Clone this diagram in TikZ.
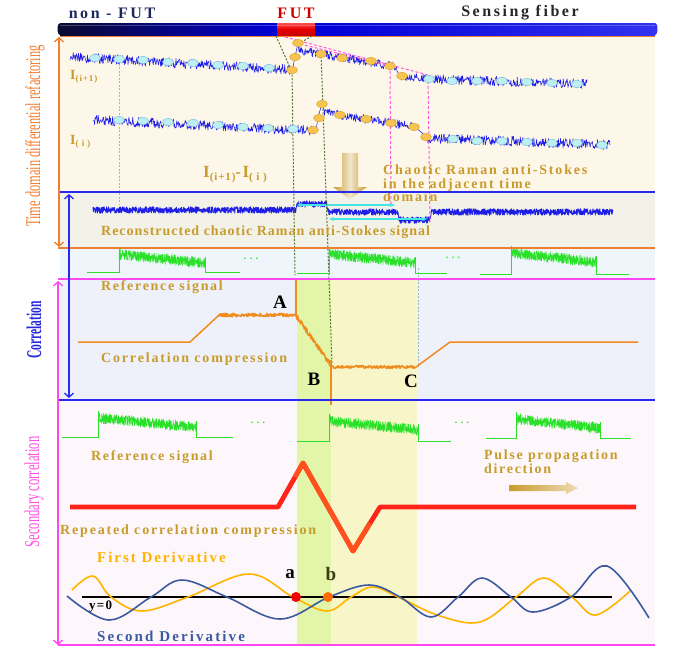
\documentclass[tikz,border=0pt]{standalone}
\usepackage{fontspec}
\usepackage{graphicx}
\setmainfont{Liberation Serif}
\usetikzlibrary{arrows.meta}
\definecolor{goldc}{RGB}{200,155,45}
\definecolor{bgcream}{RGB}{253,247,234}
\definecolor{bgrec}{RGB}{242,242,232}
\definecolor{bgref}{RGB}{238,246,251}
\definecolor{bgcorr}{RGB}{238,241,250}
\definecolor{bgsec}{RGB}{253,247,251}
\definecolor{bandg}{RGB}{226,245,168}
\definecolor{bandy}{RGB}{248,246,200}
\definecolor{tracec}{RGB}{30,30,230}
\definecolor{pulsec}{RGB}{40,225,40}
\definecolor{corrc}{RGB}{240,140,30}
\definecolor{orangeL}{RGB}{240,125,50}
\definecolor{blueL}{RGB}{40,40,240}
\definecolor{magL}{RGB}{255,70,240}
\definecolor{dgreen}{RGB}{80,120,50}
\definecolor{pinkd}{RGB}{255,90,220}
\definecolor{greyd}{RGB}{150,185,205}
\definecolor{cyanA}{RGB}{70,230,230}
\definecolor{mkcyan}{RGB}{190,238,242}
\definecolor{mkcyanD}{RGB}{110,190,210}
\definecolor{mkgold}{RGB}{247,196,80}
\definecolor{mkgoldD}{RGB}{215,160,50}
\definecolor{firstc}{RGB}{255,180,0}
\definecolor{secondc}{RGB}{60,90,160}
\definecolor{redc}{RGB}{255,35,25}
\definecolor{redo}{RGB}{255,80,30}
\definecolor{navyt}{RGB}{28,40,90}
\definecolor{futred}{RGB}{200,0,0}
\definecolor{barDark}{RGB}{10,10,50}
\definecolor{barBlue}{RGB}{0,0,215}
\definecolor{barBlue2}{RGB}{50,50,240}
\definecolor{lblue}{RGB}{40,40,220}
\definecolor{lmag}{RGB}{255,80,230}
\definecolor{olivet}{RGB}{60,60,20}
\tikzset{
 gl/.style={text=goldc,inner sep=0pt,anchor=west,font=\fontsize{14}{13.5}\selectfont\bfseries\addfontfeatures{LetterSpace=#1}},
 gl/.default=13,
 trace/.style={draw=tracec,line width=0.55pt,line join=round},
 pulse/.style={draw=pulsec,line width=1pt},
 pnoise/.style={draw=pulsec,line width=0.3pt},
 mkc/.style={fill=mkcyan,draw=mkcyanD,line width=0.4pt},
 mkg/.style={fill=mkgold,draw=mkgoldD,line width=0.4pt},
 gdash/.style={draw=dgreen,line width=1pt,dash pattern=on 2pt off 1.5pt},
 pdash/.style={draw=pinkd,line width=1pt,dash pattern=on 3pt off 2pt},
 bdash/.style={draw=greyd,line width=0.8pt,dash pattern=on 2pt off 1.5pt},
 sidearr/.style={line width=1.3pt,{Straight Barb[length=4pt,width=9pt]}-{Straight Barb[length=4pt,width=9pt]}},
 sidelbl/.style={rotate=90,inner sep=0pt},
 bigl/.style={font=\fontsize{19}{19}\selectfont\bfseries,inner sep=0pt},
 toplbl/.style={font=\fontsize{16}{16}\selectfont\bfseries\addfontfeatures{LetterSpace=16},inner sep=0pt},
 corrl/.style={draw=corrc,line width=1.5pt,line join=round},
 cyanarr/.style={draw=cyanA,line width=1.2pt,{Stealth[length=5pt,width=4pt]}-{Stealth[length=5pt,width=4pt]}},
 dotsl/.style={text=pulsec,inner sep=0pt,font=\bfseries},
}
\newcommand\refpulse[8]{%
 \draw[pulse] (#1,#5) -- (#2,#5) -- (#2,{#6-7});
 \draw[pnoise] plot[domain=#2:#3,samples=#7] (\x,{#6+#8*(\x-#2)/(#3-#2)+5.5*rand});
 \draw[pulse] (#3,{#6+#8-6}) -- (#3,#5) -- (#4,#5);
}
\begin{document}
\begin{tikzpicture}[x=1pt,y=-1pt]
\pgfmathsetseed{4242}
\useasboundingbox (0,0) rectangle (692,657);
% backgrounds
\fill[bgcream] (60,36) rectangle (655,192);
\fill[bgrec] (60,192) rectangle (655,248);
\fill[bgref] (60,248) rectangle (655,279);
\fill[bgcorr] (60,279) rectangle (655,400);
\fill[bgsec] (60,400) rectangle (655,645);
\fill[bandg] (297,279) rectangle (331,645);
\fill[bandy] (331,279) rectangle (417,645);
% fiber bar
\shade[left color=barDark,right color=barBlue] (60,23) rectangle (277,35);
\shade[top color=red!70!white,bottom color=futred,middle color=red!90!black] (277,23) rectangle (315,35);
\shade[left color=barBlue,right color=barBlue2] (315,23) rectangle (655,35);
\fill[barDark] (60,29) ellipse (2.5pt and 6pt);
\fill[barBlue2] (655,29) ellipse (2.5pt and 6pt);
\fill[white,opacity=0.25] (60,24.5) rectangle (655,26);
\draw[orangeL,line width=1pt] (60,36) -- (655,36);
% top labels
\node[toplbl,text=navyt] (tnon) at (112,13) {non - FUT};
\node[toplbl,text=futred] (tfut) at (296,13) {FUT};
\node[toplbl,text=black!85] (tsens) at (520,13) {Sensing fiber};
% traces I(i+1)
\draw[trace] plot[domain=70:291,samples=420] (\x,{57+0.057*(\x-70)+5*rand}) -- (292,72) -- (295,57) -- (298,43)
 -- plot[domain=299:397,samples=190] (\x,{50+0.17*(\x-298)+4.5*rand}) -- (400,76)
 -- plot[domain=401:428,samples=50] (\x,{76+0.1*(\x-400)+4*rand})
 -- plot[domain=429:587,samples=300] (\x,{79+0.03*(\x-428)+5*rand});
% trace I(i)
\draw[trace] plot[domain=93:315,samples=420] (\x,{120+0.049*(\x-93)+5*rand}) -- (316,131) -- (318,117) -- (322,104)
 -- plot[domain=324:413,samples=170] (\x,{112+0.162*(\x-322)+4.5*rand}) -- (415,127) -- (427,137)
 -- plot[domain=428:610,samples=350] (\x,{138+0.038*(\x-427)+5*rand});
% reconstructed trace
\draw[trace,line width=0.8pt] plot[domain=93:296,samples=800] (\x,{210+3.3*rand})
 -- plot[domain=297:327,samples=120] (\x,{204+3.3*rand})
 -- plot[domain=328:398,samples=280] (\x,{212+3.3*rand})
 -- plot[domain=399:430,samples=124] (\x,{220+3.3*rand})
 -- plot[domain=431:613,samples=720] (\x,{212+3.3*rand});
\coordinate (ca1) at (297,205); \coordinate (ca2) at (395,205);
\coordinate (cb1) at (329,219); \coordinate (cb2) at (427,219);
\draw[cyanarr] (ca1) -- (ca2);
\draw[cyanarr] (cb1) -- (cb2);
% dashed guides
\draw[bdash] (119,60) -- (119,205);
\draw[bdash] (418,268) -- (418,367);
\draw[gdash] (276,36) -- (292,72) -- (295,275);
\draw[gdash] (312,36) -- (300,43);
\draw[gdash] (321,53) -- (332,363);
\draw[pdash] (285,37) -- (428,75);
\draw[pdash] (300,44) -- (390,66);
\draw[pdash] (390,66) -- (391,205);
\draw[pdash] (428,76) -- (430,222);
% markers
\foreach \p in {(95,58),(119,59),(143,60),(168,62),(193,63),(218,65),(243,66),(269,68),
 (429,79),(452,81),(477,81),(502,81),(527,82),(552,83),(577,84),
 (119,120),(143,121),(168,122),(193,123),(218,125),(243,127),(268,128),(293,129),
 (453,139),(477,141),(502,141),(527,142),(552,143),(577,143),(602,145)}
 \draw[mkc] \p ellipse (5.5pt and 3.8pt);
\foreach \p in {(292,70),(295,57),(298,43),(321,54),(342,58),(371,61),(390,66),(402,76),
 (313,130),(319,118),(322,104),(340,115),(366,119),(391,123),(414,127),(426,137)}
 \draw[mkg] \p ellipse (5.5pt and 3.8pt);
% labels in first panel
\node[gl=10] (lIi1) at (70,77) {I\raisebox{-2.5pt}{\fontsize{9}{9}\selectfont(i+1)}};
\node[gl=10] (lIi) at (70,142) {I\raisebox{-2.5pt}{\fontsize{9}{9}\selectfont( i )}};
\node[gl=8] (ldiff) at (203,175) {\fontsize{17}{17}\selectfont I\raisebox{-3pt}{\fontsize{11}{11}\selectfont(i+1)}-I\raisebox{-3pt}{\fontsize{11}{11}\selectfont( i )}};
\shade[left color=goldc,right color=goldc,middle color=goldc!25!white] (342,153) -- (358,153) -- (358,187) -- (367,187) -- (350,199) -- (333,187) -- (342,187) -- cycle;
\node[gl,anchor=north west,align=left] (lchaotic) at (383,165) {Chaotic Raman anti-Stokes\\in the adjacent time\\domain};
\node[gl=7] (lrecon) at (101,232) {Reconstructed chaotic Raman anti-Stokes signal};
% reference pulses row 1
\refpulse{87}{119}{205}{240}{272}{254}{700}{9}
\refpulse{297}{329}{415}{447}{273}{254}{700}{9}
\refpulse{480}{511}{596}{629}{274}{253}{700}{9}
\node[dotsl] (dots1) at (251,259) {. . .};
\node[dotsl] (dots2) at (453,258) {. . .};
% correlation
\node[gl=12] (lref1) at (101,287) {Reference signal};
\draw[corrl] (78,342) -- (190,342) -- (218,316)
 -- plot[domain=219:294,samples=150] (\x,{315+1.8*rand}) -- (296,316)
 -- plot[domain=297:331,samples=80] (\x,{317+(\x-297)*1.42+2.5*rand})
 -- plot[domain=333:415,samples=160] (\x,{367+1.5*rand}) -- (416,367) -- (450,342) -- (638,342);
\draw[corrl] (296,280) -- (296,316);
\draw[corrl] (331,360) -- (331,405);
\node[gl] (lcorrc) at (101,359) {Correlation compression};
\node[bigl] (lA) at (280,302) {A};
\node[bigl] (lB) at (314,379) {B};
\node[bigl] (lC) at (411,381) {C};
% secondary
\refpulse{62}{98}{196}{233}{437}{418}{800}{9}
\refpulse{297}{329}{418}{451}{441}{421}{720}{9}
\refpulse{486}{516}{600}{631}{438}{419}{700}{9}
\node[dotsl] (dots3) at (258,423) {. . .};
\node[dotsl] (dots4) at (462,423) {. . .};
\node[gl=12] (lref2) at (91,457) {Reference signal};
\node[gl=12,anchor=north west,align=left,font=\fontsize{14}{14}\selectfont\bfseries\addfontfeatures{LetterSpace=12}] (lpulse) at (484,450) {Pulse propagation\\direction};
\shade[left color=goldc,right color=goldc!35!white] (509,485) -- (566,485) -- (566,482) -- (578,488) -- (566,494) -- (566,491) -- (509,491) -- cycle;
\draw[redc,line width=4.8pt,line join=round] (70,507) -- (278,507) -- (303,463) -- (353,551) -- (380,507) -- (636,507);
\draw[redo,line width=4.8pt,line join=round] (295,477) -- (303,463) -- (353,551) -- (370,523);
\node[gl] (lrep) at (60,531) {Repeated correlation compression};
\node[gl,text=firstc,font=\fontsize{15}{15}\selectfont\bfseries\addfontfeatures{LetterSpace=13}] (lfirst) at (97,557) {First Derivative};
\draw[black,line width=1.5pt] (82,597) -- (612,597);
\draw[firstc,line width=1.6pt] plot[smooth,tension=0.6] coordinates {(72,590) (93,576) (111,597) (142,611) (188,597) (249,574) (293,597) (327,611) (351,597) (373,587) (400,598) (440,616) (480,622) (516,597) (544,578) (573,598) (596,615) (630,591)};
\draw[secondc,line width=1.6pt] plot[smooth,tension=0.6] coordinates {(67,596) (109,620) (151,597) (182,580) (227,597) (280,619) (329,597) (369,585) (400,597) (431,617) (458,597) (482,578) (511,597) (533,612) (571,597) (607,566) (649,618)};
\fill[red!95!black] (296,597) circle (5pt);
\fill[orange!85!red] (328,597) circle (5pt);
\node[bigl] (la) at (290,574) {a};
\node[bigl,text=olivet] (lb) at (331,574) {b};
\node[inner sep=0pt,anchor=west,font=\fontsize{13}{13}\selectfont\bfseries\addfontfeatures{LetterSpace=10}] (ly0) at (89,607) {y=0};
\node[gl,text=secondc,font=\fontsize{15}{15}\selectfont\bfseries\addfontfeatures{LetterSpace=14}] (lsecond) at (97,636) {Second Derivative};
% separators
\draw[blueL,line width=1.2pt] (58,192) -- (655,192);
\draw[orangeL,line width=1.2pt] (58,248) -- (655,248);
\draw[magL,line width=1.2pt] (58,279) -- (655,279);
\draw[blueL,line width=1.2pt] (58,400) -- (655,400);
\draw[magL,line width=1.2pt] (58,645) -- (655,645);
% side arrows
\coordinate (sa1) at (59,37); \coordinate (sa2) at (59,247);
\coordinate (sb1) at (69,194); \coordinate (sb2) at (69,398);
\coordinate (sc1) at (58,281); \coordinate (sc2) at (58,645);
\draw[sidearr,orangeL] (sa1) -- (sa2);
\draw[sidearr,blueL] (sb1) -- (sb2);
\draw[sidearr,magL] (sc1) -- (sc2);
\node[sidelbl,text=orangeL] (lbltime) at (35,136) {\fontsize{21}{21}\selectfont\scalebox{0.59}[1]{Time domain differential refactoring}};
\node[sidelbl,text=lblue] (lblcorr) at (34,330) {\fontsize{21}{21}\selectfont\bfseries\scalebox{0.55}[1]{Correlation}};
\node[sidelbl,text=lmag] (lblsec) at (34,492) {\fontsize{21}{21}\selectfont\scalebox{0.6}[1]{Secondary correlation}};
\end{tikzpicture}
\end{document}
